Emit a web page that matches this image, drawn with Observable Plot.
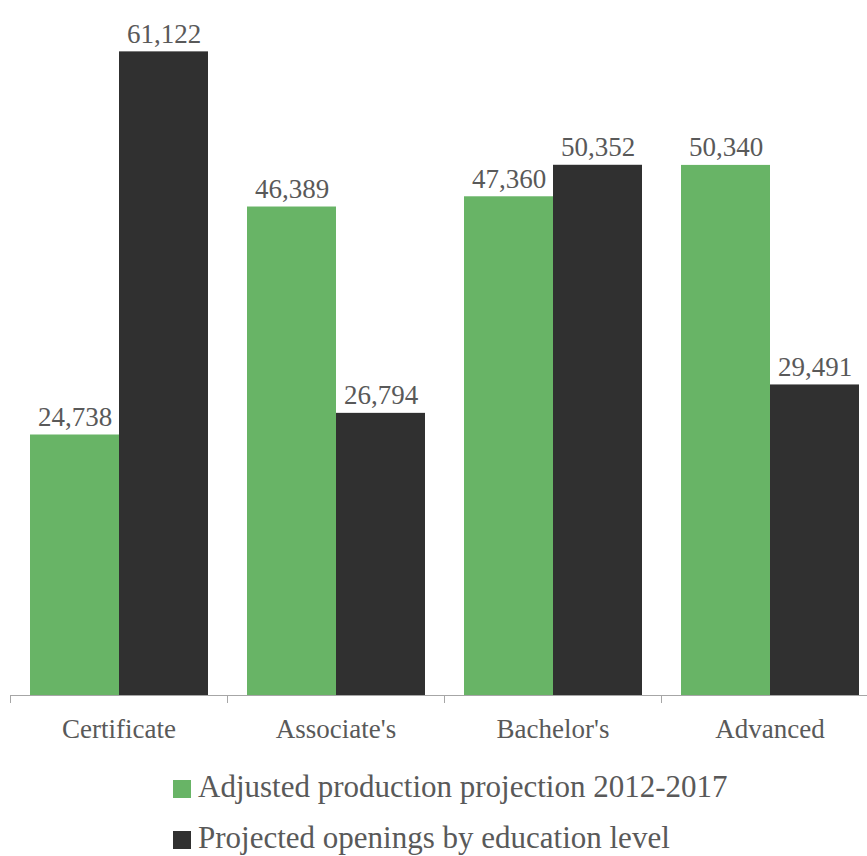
<!DOCTYPE html>
<html>
<head>
<meta charset="utf-8">
<script src="https://cdn.jsdelivr.net/npm/d3@7"></script>
<script src="https://cdn.jsdelivr.net/npm/@observablehq/plot@0.6"></script>
<style>
  html, body { margin: 0; padding: 0; background: #fff; overflow: hidden; }
  #wrap { position: relative; width: 867px; height: 856px; overflow: hidden; }
  #chart { position: absolute; left: 0; top: 0; width: 878px; }
  #chart svg { max-width: none !important; }
  #legend { position: absolute; left: 173px; top: 761px; font-family: "Liberation Serif", "Times New Roman", serif; font-size: 31px; color: #595959; }
  .row { display: flex; align-items: center; height: 51px; white-space: nowrap; }
  .sw { width: 18px; height: 18px; margin-right: 7px; position: relative; top: 2px; }
</style>
</head>
<body>
<div id="wrap">
  <div id="chart"></div>
  <div id="legend"></div>
</div>
<script>
const categories = ["Certificate", "Associate's", "Bachelor's", "Advanced"];
const seriesNames = ["Adjusted production projection 2012-2017", "Projected openings by education level"];
const productionValues = [24738, 46389, 47360, 50340];
const openingsValues = [61122, 26794, 50352, 29491];
const seriesColors = ["#68b466", "#303030"];

const data = [];
categories.forEach((c, i) => {
  data.push({category: c, series: seriesNames[0], value: productionValues[i]});
  data.push({category: c, series: seriesNames[1], value: openingsValues[i]});
});

const fmt = d3.format(",");
const font = "'Liberation Serif', 'Times New Roman', serif";

const chart = Plot.plot({
  width: 878,
  height: 745,
  marginLeft: 9,
  marginRight: 0,
  marginTop: 0,
  marginBottom: 50,
  style: {fontFamily: font, background: "#fff", maxWidth: "none"},
  fx: {domain: categories, padding: 0, label: null, axis: null},
  x: {domain: seriesNames, paddingInner: 0, paddingOuter: 0.216, axis: null},
  y: {domain: [0, 66000], axis: null},
  color: {domain: seriesNames, range: seriesColors},
  marks: [
    Plot.barY(data, {fx: "category", x: "series", y: "value", fill: "series", inset: 0}),
    Plot.ruleY([0], {stroke: "#a6a6a6", strokeWidth: 1}),
    Plot.text(data, {
      fx: "category", x: "series", y: "value", text: d => fmt(d.value),
      lineAnchor: "bottom", dy: -9, fontSize: 27, fill: "#595959", fontFamily: font
    }),
    Plot.axisFx({anchor: "bottom", tickSize: 0, tickPadding: 23, fontSize: 27, label: null, fill: "#595959", fontFamily: font})
  ]
});

document.getElementById("chart").appendChild(chart);

// category boundary ticks from the fx scale
const fx = chart.scale("fx");
const bw = fx.bandwidth;
const yBase = chart.scale("y").apply(0);
const bounds = categories.map(c => fx.apply(c)).concat([fx.apply(categories[categories.length - 1]) + bw]);
const svg = d3.select(chart.tagName.toLowerCase() === "svg" ? chart : chart.querySelector("svg"));
svg.append("g").selectAll("line").data(bounds).join("line")
  .attr("x1", d => d).attr("x2", d => d)
  .attr("y1", yBase).attr("y2", yBase + 8)
  .attr("stroke", "#a6a6a6").attr("stroke-width", 1)
  .attr("shape-rendering", "crispEdges");

// legend
const legend = d3.select("#legend");
seriesNames.forEach((s, i) => {
  const row = legend.append("div").attr("class", "row");
  row.append("div").attr("class", "sw").style("background", seriesColors[i]);
  row.append("span").text(s);
});
</script>
</body>
</html>
